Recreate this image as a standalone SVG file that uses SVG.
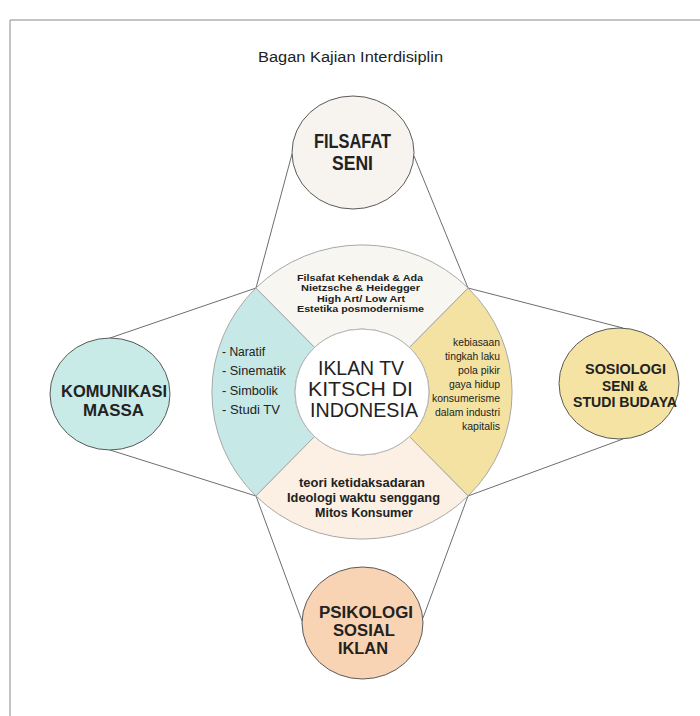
<svg xmlns="http://www.w3.org/2000/svg" width="700" height="716" viewBox="0 0 700 716">
<style>
text{font-family:"Liberation Sans",Arial,sans-serif;fill:#222;}
.c{text-anchor:middle;}
.e{text-anchor:end;}
.b{font-weight:bold;}
.node{stroke:#5a5a5a;stroke-width:1;}
.sec{stroke:#a8a8a8;stroke-width:1;}
.conn line{stroke:#6e6e6e;stroke-width:1;}
</style>
<rect x="0" y="0" width="700" height="716" fill="#ffffff"/>
<path d="M10 716 V20 H700" fill="none" stroke="#8a8a8a" stroke-width="1"/>
<text x="350.5" y="62" class="c" font-size="15.5" textLength="185" lengthAdjust="spacingAndGlyphs">Bagan Kajian Interdisiplin</text>

<g id="connectors" class="conn">
<line x1="292" y1="154" x2="256" y2="288"/>
<line x1="414" y1="156" x2="468" y2="288"/>
<line x1="110" y1="338" x2="256" y2="288"/>
<line x1="110" y1="450" x2="256" y2="496"/>
<line x1="623" y1="328" x2="468" y2="288"/>
<line x1="623" y1="439" x2="468" y2="496"/>
<line x1="256" y1="496" x2="302" y2="621"/>
<line x1="468" y1="496" x2="423" y2="618"/>
</g>

<g id="sector-top">
<path class="sec" fill="#f8f6f1" d="M255.9 288 A150 147 0 0 1 468.1 288 L409.4 347.5 A67 63 0 0 0 314.6 347.5 Z"/>
<text x="360" y="281" class="c b" font-size="9.4" textLength="126" lengthAdjust="spacingAndGlyphs">Filsafat Kehendak &amp; Ada</text>
<text x="360.5" y="291.3" class="c b" font-size="9.4" textLength="119" lengthAdjust="spacingAndGlyphs">Nietzsche &amp; Heidegger</text>
<text x="361" y="301.6" class="c b" font-size="9.4" textLength="88" lengthAdjust="spacingAndGlyphs">High Art/ Low Art</text>
<text x="360.5" y="312" class="c b" font-size="9.4" textLength="127" lengthAdjust="spacingAndGlyphs">Estetika posmodernisme</text>
</g>

<g id="sector-left">
<path class="sec" fill="#c6e8e6" d="M255.9 288 A150 147 0 0 0 255.9 496 L314.6 436.5 A67 63 0 0 1 314.6 347.5 Z"/>
<text x="222" y="356" font-size="12" textLength="43" lengthAdjust="spacingAndGlyphs">- Naratif</text>
<text x="222" y="375" font-size="12" textLength="64" lengthAdjust="spacingAndGlyphs">- Sinematik</text>
<text x="222" y="395" font-size="12" textLength="56" lengthAdjust="spacingAndGlyphs">- Simbolik</text>
<text x="222" y="414" font-size="12" textLength="58" lengthAdjust="spacingAndGlyphs">- Studi TV</text>
</g>

<g id="sector-right">
<path class="sec" fill="#f3e2a2" d="M468.1 288 A150 147 0 0 1 468.1 496 L409.4 436.5 A67 63 0 0 0 409.4 347.5 Z"/>
<text x="500" y="345.5" class="e" font-size="10.5" textLength="47" lengthAdjust="spacingAndGlyphs">kebiasaan</text>
<text x="500" y="359.5" class="e" font-size="10.5" textLength="55" lengthAdjust="spacingAndGlyphs">tingkah laku</text>
<text x="500" y="373.5" class="e" font-size="10.5" textLength="42" lengthAdjust="spacingAndGlyphs">pola pikir</text>
<text x="500" y="387.5" class="e" font-size="10.5" textLength="51" lengthAdjust="spacingAndGlyphs">gaya hidup</text>
<text x="500" y="401.5" class="e" font-size="10.5" textLength="68" lengthAdjust="spacingAndGlyphs">konsumerisme</text>
<text x="500" y="415.5" class="e" font-size="10.5" textLength="65" lengthAdjust="spacingAndGlyphs">dalam industri</text>
<text x="500" y="429.5" class="e" font-size="10.5" textLength="38" lengthAdjust="spacingAndGlyphs">kapitalis</text>
</g>

<g id="sector-bottom">
<path class="sec" fill="#fcefe3" d="M468.1 496 A150 147 0 0 1 255.9 496 L314.6 436.5 A67 63 0 0 0 409.4 436.5 Z"/>
<text x="362" y="487" class="c b" font-size="12.2" textLength="126" lengthAdjust="spacingAndGlyphs">teori ketidaksadaran</text>
<text x="363.5" y="502" class="c b" font-size="12.2" textLength="153" lengthAdjust="spacingAndGlyphs">Ideologi waktu senggang</text>
<text x="364" y="516.5" class="c b" font-size="12.2" textLength="98" lengthAdjust="spacingAndGlyphs">Mitos Konsumer</text>
</g>

<g id="center">
<ellipse cx="362" cy="392" rx="67" ry="63" fill="#ffffff" stroke="#b5b5b5" stroke-width="1"/>
<text x="361" y="375" class="c" font-size="21" textLength="86" lengthAdjust="spacingAndGlyphs">IKLAN TV</text>
<text x="360.5" y="396" class="c" font-size="21" textLength="105" lengthAdjust="spacingAndGlyphs">KITSCH DI</text>
<text x="364" y="417" class="c" font-size="21" textLength="108" lengthAdjust="spacingAndGlyphs">INDONESIA</text>
</g>

<g id="filsafat-seni">
<ellipse class="node" cx="353" cy="152.5" rx="61" ry="56.5" fill="#f7f4ef"/>
<text x="352.5" y="148" class="c b" font-size="19.5" textLength="77" lengthAdjust="spacingAndGlyphs">FILSAFAT</text>
<text x="352.5" y="169.5" class="c b" font-size="19.5" textLength="41" lengthAdjust="spacingAndGlyphs">SENI</text>
</g>

<g id="komunikasi-massa">
<ellipse class="node" cx="110" cy="394" rx="60" ry="56" fill="#c8ebe8"/>
<text x="114" y="397" class="c b" font-size="16.5" textLength="106" lengthAdjust="spacingAndGlyphs">KOMUNIKASI</text>
<text x="113.5" y="416" class="c b" font-size="16.5" textLength="61" lengthAdjust="spacingAndGlyphs">MASSA</text>
</g>

<g id="sosiologi-seni">
<ellipse class="node" cx="619" cy="383.5" rx="60" ry="55.5" fill="#f4e3a3"/>
<text x="625.5" y="374" class="c b" font-size="14.5" textLength="81" lengthAdjust="spacingAndGlyphs">SOSIOLOGI</text>
<text x="625" y="390.5" class="c b" font-size="14.5" textLength="46" lengthAdjust="spacingAndGlyphs">SENI &amp;</text>
<text x="625" y="407" class="c b" font-size="14.5" textLength="104" lengthAdjust="spacingAndGlyphs">STUDI BUDAYA</text>
</g>

<g id="psikologi-sosial">
<ellipse class="node" cx="362.5" cy="623" rx="60.5" ry="56" fill="#f9d4b4"/>
<text x="366" y="617.5" class="c b" font-size="16.8" textLength="94" lengthAdjust="spacingAndGlyphs">PSIKOLOGI</text>
<text x="364" y="635.5" class="c b" font-size="16.8" textLength="62" lengthAdjust="spacingAndGlyphs">SOSIAL</text>
<text x="363" y="653.5" class="c b" font-size="16.8" textLength="50" lengthAdjust="spacingAndGlyphs">IKLAN</text>
</g>
</svg>
